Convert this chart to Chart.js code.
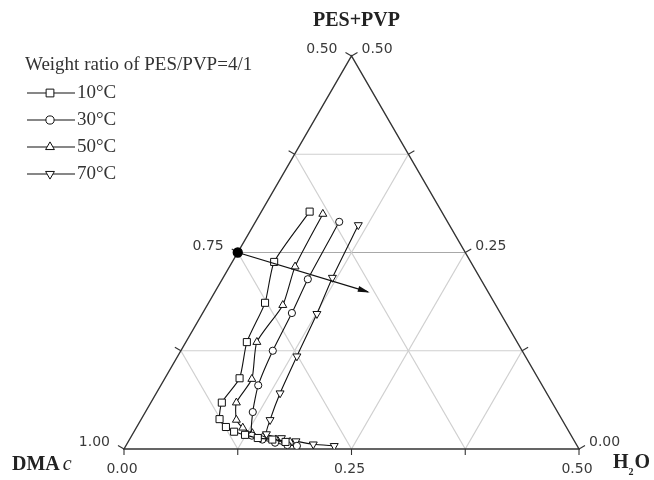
<!DOCTYPE html>
<html><head><meta charset="utf-8">
<script src="https://cdn.jsdelivr.net/npm/chart.js@4.4.0/dist/chart.umd.min.js"></script>
<style>html,body{margin:0;padding:0;background:#fff;} #wrap{width:654px;height:480px;position:relative;}</style>
</head><body><div id="wrap"><canvas id="c" width="654" height="480"></canvas></div>
<script>
// ---- data (ternary compositions: H2O fraction, PES+PVP fraction; DMAc = 1 - both) ----
const seriesNames = ['10°C', '30°C', '50°C', '70°C'];
const water10   = [0.053, 0.046, 0.062, 0.067, 0.082, 0.078, 0.086, 0.098, 0.110, 0.124, 0.140, 0.157, 0.173];
const polymer10 = [0.302, 0.238, 0.186, 0.136, 0.090, 0.059, 0.038, 0.028, 0.022, 0.018, 0.014, 0.012, 0.009];
const water30   = [0.092, 0.094, 0.098, 0.101, 0.107, 0.118, 0.132, 0.146, 0.162, 0.177, 0.188];
const polymer30 = [0.289, 0.216, 0.173, 0.125, 0.081, 0.047, 0.017, 0.012, 0.008, 0.005, 0.004];
const water50   = [0.069, 0.072, 0.083, 0.078, 0.096, 0.094, 0.105, 0.117, 0.131, 0.145, 0.161, 0.178];
const polymer50 = [0.299, 0.232, 0.183, 0.136, 0.089, 0.059, 0.037, 0.027, 0.020, 0.015, 0.012, 0.009];
const water70   = [0.115, 0.120, 0.126, 0.131, 0.136, 0.142, 0.147, 0.166, 0.184, 0.205, 0.229];
const polymer70 = [0.285, 0.218, 0.172, 0.118, 0.071, 0.037, 0.019, 0.014, 0.010, 0.006, 0.004];
const arrowWater   = [0.000, 0.168];
const arrowPolymer = [0.250, 0.200];
const gridSteps = [0.125, 0.25, 0.375];
const tickSteps = [0, 0.125, 0.25, 0.375, 0.5];
const bottomTickValues = [0, 0.25, 0.5];     // H2O
const bottomTickLabels = ['0.00', '0.25', '0.50'];
const rightTickValues = [0, 0.25, 0.5];      // PES+PVP
const rightTickLabels = ['0.00', '0.25', '0.50'];
const leftTickValues = [1.0, 0.75, 0.5];     // DMAc
const leftTickLabels = ['1.00', '0.75', '0.50'];
const legendTitle = 'Weight ratio of PES/PVP=4/1';

// ---- helpers ----
function toXY(w, p) { return { x: w + p / 2, y: p }; }
function buildData(ws, ps) { return ws.map((w, i) => toXY(w, ps[i])); }

const styles = [
  { pointStyle: 'rect', radius: 5, rotation: 0 },
  { pointStyle: 'circle', radius: 3.6, rotation: 0 },
  { pointStyle: 'triangle', radius: 4.6, rotation: 0 },
  { pointStyle: 'triangle', radius: 4.6, rotation: 180 }
];
const seriesW = [water10, water30, water50, water70];
const seriesP = [polymer10, polymer30, polymer50, polymer70];

const datasets = seriesNames.map((name, i) => ({
  label: name,
  data: buildData(seriesW[i], seriesP[i]),
  showLine: true,
  borderColor: '#111',
  borderWidth: 1.1,
  tension: 0.2,
  pointStyle: styles[i].pointStyle,
  pointRadius: styles[i].radius,
  pointRotation: styles[i].rotation,
  pointBackgroundColor: '#fff',
  pointBorderColor: '#111',
  pointBorderWidth: 1,
  order: 1
}));
datasets.push({
  label: 'arrow',
  data: buildData(arrowWater, arrowPolymer),
  showLine: true,
  borderColor: '#111',
  borderWidth: 1.3,
  pointRadius: [4.5, 0],
  pointStyle: 'circle',
  pointBackgroundColor: '#000',
  pointBorderColor: '#000',
  order: 0
});

function P(chart, w, p) {
  return [chart.scales.x.getPixelForValue(w + p / 2), chart.scales.y.getPixelForValue(p)];
}
function line(ctx, a, b) { ctx.beginPath(); ctx.moveTo(a[0], a[1]); ctx.lineTo(b[0], b[1]); ctx.stroke(); }

const ternaryPlugin = {
  id: 'ternary',
  beforeDatasetsDraw(chart) {
    const ctx = chart.ctx;
    ctx.save();
    // grid
    gridSteps.forEach(s => {
      ctx.lineWidth = 1.2;
      ctx.strokeStyle = s === 0.25 ? '#a8a8a8' : '#cfcfcf';
      line(ctx, P(chart, 0, s), P(chart, 0.5 - s, s));           // constant PES+PVP
      ctx.strokeStyle = '#cfcfcf';
      line(ctx, P(chart, s, 0), P(chart, s, 0.5 - s));           // constant H2O
      line(ctx, P(chart, 0, s), P(chart, s, 0));                 // constant DMAc
    });
    // triangle
    ctx.strokeStyle = '#333';
    ctx.lineWidth = 1.4;
    ctx.beginPath();
    const A = P(chart, 0, 0), B = P(chart, 0.5, 0), C = P(chart, 0, 0.5);
    ctx.moveTo(A[0], A[1]); ctx.lineTo(B[0], B[1]); ctx.lineTo(C[0], C[1]); ctx.closePath();
    ctx.stroke();
    // ticks
    ctx.lineWidth = 1.1;
    tickSteps.forEach(t => {
      const b = P(chart, t, 0); line(ctx, b, [b[0], b[1] + 6]);
      const r = P(chart, 0.5 - t, t); line(ctx, r, [r[0] + 6, r[1] - 3.5]);
      const l = P(chart, 0, t); line(ctx, l, [l[0] - 6, l[1] - 3.5]);
    });
    // tick labels
    ctx.fillStyle = '#3a3a3a';
    ctx.font = '14px "DejaVu Sans"';
    ctx.textBaseline = 'middle';
    ctx.textAlign = 'center';
    bottomTickValues.forEach((v, i) => { const q = P(chart, v, 0); ctx.fillText(bottomTickLabels[i], q[0] - 2, q[1] + 20); });
    ctx.textAlign = 'left';
    rightTickValues.forEach((v, i) => { const q = P(chart, 0.5 - v, v); ctx.fillText(rightTickLabels[i], q[0] + 10, q[1] - 6.5); });
    ctx.textAlign = 'right';
    leftTickValues.forEach((v, i) => { const q = P(chart, 0, 1 - v); ctx.fillText(leftTickLabels[i], q[0] - 14, q[1] - 6.5); });
    // axis titles
    ctx.fillStyle = '#222';
    ctx.textAlign = 'center';
    ctx.font = 'bold 20px "Liberation Serif"';
    ctx.fillText('PES+PVP', C[0] + 5, C[1] - 35);
    ctx.textAlign = 'left';
    ctx.fillText('DMA', A[0] - 112, A[1] + 16);
    const dw = ctx.measureText('DMA').width;
    ctx.font = 'italic 20px "Liberation Serif"';
    ctx.fillText('c', A[0] - 112 + dw + 3, A[1] + 16);
    ctx.font = 'bold 20px "Liberation Serif"';
    ctx.fillText('H', B[0] + 34, B[1] + 14);
    const hw = ctx.measureText('H').width;
    ctx.font = 'bold 10px "Liberation Serif"';
    ctx.fillText('2', B[0] + 34 + hw, B[1] + 23);
    ctx.font = 'bold 20px "Liberation Serif"';
    ctx.fillText('O', B[0] + 34 + hw + 6, B[1] + 14);
    ctx.restore();
  },
  afterDatasetsDraw(chart) {
    const ctx = chart.ctx;
    ctx.save();
    // arrow head
    const s = P(chart, arrowWater[0], arrowPolymer[0]);
    const e = P(chart, arrowWater[1], arrowPolymer[1]);
    const ang = Math.atan2(e[1] - s[1], e[0] - s[0]);
    ctx.translate(e[0], e[1]); ctx.rotate(ang);
    ctx.fillStyle = '#111';
    ctx.beginPath(); ctx.moveTo(2, 0); ctx.lineTo(-10, -3); ctx.lineTo(-10, 3); ctx.closePath(); ctx.fill();
    ctx.restore();
    // legend
    ctx.save();
    ctx.fillStyle = '#333';
    ctx.font = '19px "Liberation Serif"';
    ctx.textBaseline = 'middle';
    ctx.textAlign = 'left';
    ctx.fillText(legendTitle, 25, 65);
    seriesNames.forEach((name, i) => {
      const y = 93 + i * 27;
      ctx.strokeStyle = '#111'; ctx.lineWidth = 1.1;
      line(ctx, [27, y], [75, y]);
      const st = styles[i];
      ctx.fillStyle = '#fff'; ctx.strokeStyle = '#111'; ctx.lineWidth = 1;
      if (Chart.helpers && Chart.helpers.drawPoint) {
        Chart.helpers.drawPoint(ctx, { pointStyle: st.pointStyle, rotation: st.rotation, radius: st.radius + 0.5, borderWidth: 1 }, 50, y);
      }
      ctx.fillStyle = '#333';
      ctx.fillText(name, 77, y);
    });
    ctx.restore();
  }
};

new Chart(document.getElementById('c'), {
  type: 'scatter',
  data: { datasets },
  options: {
    responsive: false,
    animation: false,
    layout: { padding: { left: 124, right: 75, top: 56, bottom: 31 } },
    scales: {
      x: { type: 'linear', min: 0, max: 0.5, display: false },
      y: { type: 'linear', min: 0, max: 0.5, display: false }
    },
    plugins: { legend: { display: false }, tooltip: { enabled: false } }
  },
  plugins: [ternaryPlugin]
});
</script></body></html>
